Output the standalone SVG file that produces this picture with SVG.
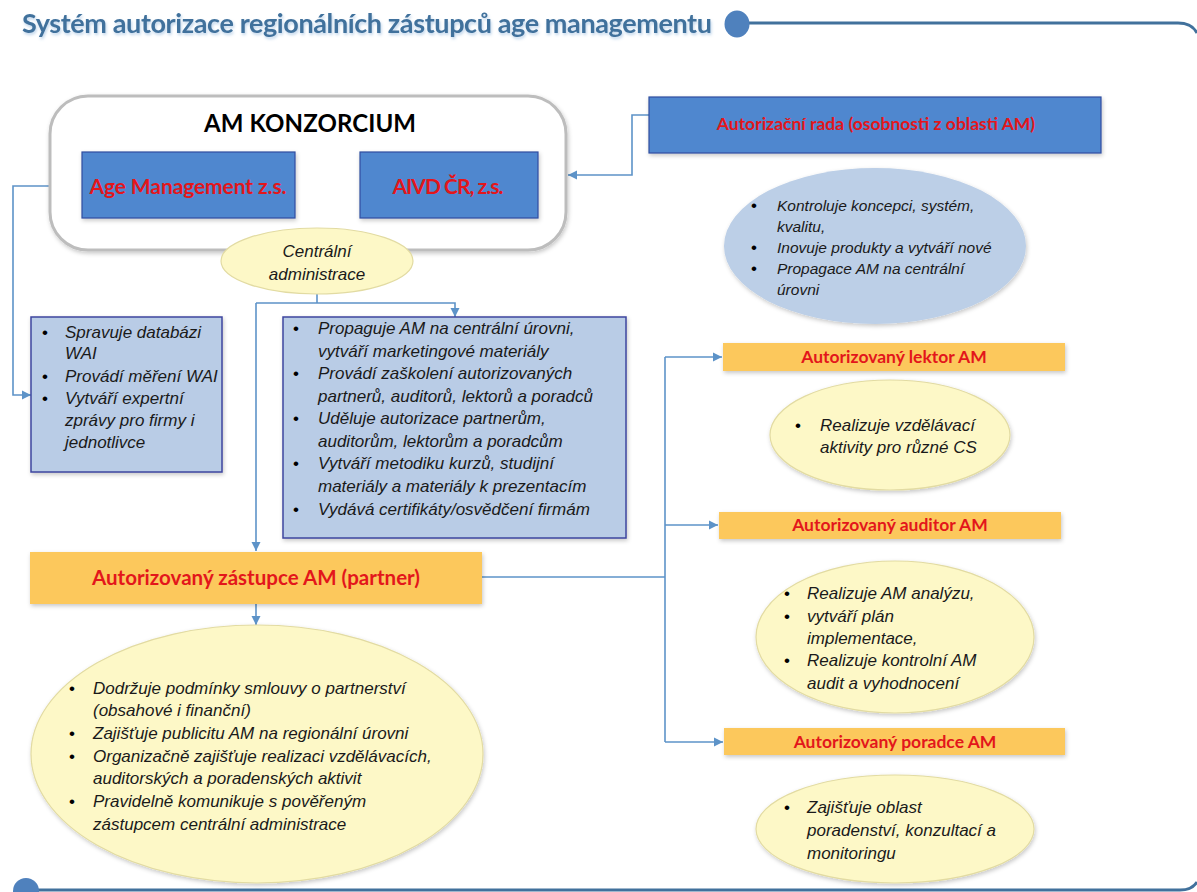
<svg xmlns="http://www.w3.org/2000/svg" width="1197" height="892" viewBox="0 0 1197 892">
<defs>
<style>
.title{font-family:Lato,"Liberation Sans",sans-serif;font-weight:bold;font-size:27px;fill:#41719c}
.head{font-family:Lato,"Liberation Sans",sans-serif;font-weight:bold;font-size:24px;fill:#000}
.red{font-family:Lato,"Liberation Sans",sans-serif;font-weight:bold;fill:#e3161b;text-anchor:middle}
.it{font-family:"Liberation Sans",Arial,sans-serif;font-style:italic;font-size:17px;fill:#1a1a1a}
.it2{font-family:"Liberation Sans",Arial,sans-serif;font-style:italic;font-size:15.5px;fill:#1a1a1a}
.bul{font-family:"Liberation Sans",sans-serif;font-size:17px;fill:#000}
.bluebox{fill:#5087cf;stroke:#2f4ea0;stroke-width:1.2}
.lightbox{fill:#b9cce6;stroke:#3c469e;stroke-width:1.5}
.orange{fill:#fcc85c}
.yell{fill:#fdf8c7;stroke:#e2dba2;stroke-width:1.2}
.conn{fill:none;stroke:#5d93c8;stroke-width:1.6}
.frame{fill:none;stroke:#41719c;stroke-width:2.8}
</style>
<marker id="arr" markerUnits="userSpaceOnUse" markerWidth="10" markerHeight="10" refX="9" refY="5" orient="auto">
<path d="M0,0.5 L9,5 L0,9.5 z" fill="#5d93c8"/>
</marker>
<filter id="sh" x="-10%" y="-10%" width="120%" height="130%">
<feDropShadow dx="1" dy="2" stdDeviation="2" flood-color="#000" flood-opacity="0.22"/>
</filter>
<filter id="tsh" x="-5%" y="-20%" width="110%" height="160%">
<feDropShadow dx="1" dy="2" stdDeviation="1.5" flood-color="#6f9fd0" flood-opacity="0.45"/>
</filter>
</defs>
<rect width="1197" height="892" fill="#fff"/>

<g id="frame">
<text class="title" x="22" y="33" textLength="690" filter="url(#tsh)">Systém autorizace regionálních zástupců age managementu</text>
<path class="frame" d="M745,23 H1178 Q1192,23 1197,33"/>
<ellipse cx="737" cy="24" rx="12.5" ry="13.5" fill="#4f81bd"/>
<path class="frame" d="M30,890 H1180 Q1192,890 1197,882"/>
<circle cx="26" cy="891" r="13" fill="#4f81bd"/>
</g>

<g id="connectors">
<path class="conn" d="M82,186 H13 V395 H31" marker-end="url(#arr)"/>
<path class="conn" d="M649,115 H632 V175 H568" marker-end="url(#arr)"/>
<path class="conn" d="M317,294 V303"/>
<path class="conn" d="M256,303 H455 V317" marker-end="url(#arr)"/>
<path class="conn" d="M256,303 V551" marker-end="url(#arr)"/>
<path class="conn" d="M256,604 V625" marker-end="url(#arr)"/>
<path class="conn" d="M482,577 H665"/>
<path class="conn" d="M665,357 V742"/>
<path class="conn" d="M665,357 H722" marker-end="url(#arr)"/>
<path class="conn" d="M665,525 H718" marker-end="url(#arr)"/>
<path class="conn" d="M665,742 H723" marker-end="url(#arr)"/>
</g>

<g id="konzorcium">
<rect x="50" y="96" width="516" height="154" rx="38" fill="#fff" stroke="#bdbdbd" stroke-width="3" filter="url(#sh)"/>
<text class="head" x="310" y="132" text-anchor="middle" textLength="212">AM KONZORCIUM</text>
</g>

<g id="age-management">
<rect class="bluebox" x="82" y="152" width="213" height="66" filter="url(#sh)"/>
<text class="red" x="188" y="194" font-size="21" textLength="197">Age Management z.s.</text>
</g>

<g id="aivd">
<rect class="bluebox" x="360" y="152" width="178" height="66" filter="url(#sh)"/>
<text class="red" x="448" y="194" font-size="21" textLength="111">AIVD ČR, z.s.</text>
</g>

<g id="centralni-administrace">
<ellipse class="yell" cx="317" cy="261" rx="96" ry="33"/>
<text class="it" x="317" y="257" text-anchor="middle">Centrální</text>
<text class="it" x="317" y="280" text-anchor="middle">administrace</text>
</g>

<g id="autorizacni-rada">
<rect class="bluebox" x="649" y="97" width="452" height="56" fill="#5a94d8" filter="url(#sh)"/>
<text class="red" x="876" y="130" font-size="17.5">Autorizační rada (osobnosti z oblasti AM)</text>
</g>

<g id="rada-ukoly">
<ellipse cx="875" cy="246" rx="151" ry="78" fill="#bccfe7" filter="url(#sh)"/>
<text class="bul" x="751" y="211">•</text>
<text class="it2" x="777" y="211">Kontroluje koncepci, systém,</text>
<text class="it2" x="777" y="232">kvalitu,</text>
<text class="bul" x="751" y="253">•</text>
<text class="it2" x="777" y="253">Inovuje produkty a vytváří nové</text>
<text class="bul" x="751" y="274">•</text>
<text class="it2" x="777" y="274">Propagace AM na centrální</text>
<text class="it2" x="777" y="295">úrovni</text>
</g>

<g id="wai">
<rect class="lightbox" x="31" y="317" width="191" height="155" filter="url(#sh)"/>
<text class="bul" x="42" y="338">•</text>
<text class="it" x="65" y="338">Spravuje databázi</text>
<text class="it" x="65" y="359">WAI</text>
<text class="bul" x="42" y="382">•</text>
<text class="it" x="65" y="382">Provádí měření WAI</text>
<text class="bul" x="42" y="404">•</text>
<text class="it" x="65" y="404">Vytváří expertní</text>
<text class="it" x="65" y="426">zprávy pro firmy i</text>
<text class="it" x="65" y="448">jednotlivce</text>
</g>

<g id="centralni-ukoly">
<rect class="lightbox" x="283" y="317" width="343" height="221" filter="url(#sh)"/>
<text class="bul" x="293" y="334">•</text>
<text class="it" x="318" y="334">Propaguje AM na centrální úrovni,</text>
<text class="it" x="318" y="357">vytváří  marketingové materiály</text>
<text class="bul" x="293" y="379">•</text>
<text class="it" x="318" y="379">Provádí zaškolení autorizovaných</text>
<text class="it" x="318" y="402">partnerů, auditorů, lektorů a poradců</text>
<text class="bul" x="293" y="424">•</text>
<text class="it" x="318" y="424">Uděluje autorizace partnerům,</text>
<text class="it" x="318" y="447">auditorům, lektorům a poradcům</text>
<text class="bul" x="293" y="469">•</text>
<text class="it" x="318" y="469">Vytváří metodiku kurzů, studijní</text>
<text class="it" x="318" y="492">materiály a materiály k prezentacím</text>
<text class="bul" x="293" y="515">•</text>
<text class="it" x="318" y="515">Vydává certifikáty/osvědčení firmám</text>
</g>

<g id="partner">
<rect class="orange" x="30" y="552" width="452" height="52" filter="url(#sh)"/>
<text class="red" x="256" y="585" font-size="20.5" textLength="328">Autorizovaný zástupce AM (partner)</text>
</g>

<g id="partner-ukoly">
<ellipse class="yell" cx="257" cy="754" rx="226" ry="129" filter="url(#sh)"/>
<text class="bul" x="69" y="694">•</text>
<text class="it" x="93" y="694">Dodržuje podmínky smlouvy o partnerství</text>
<text class="it" x="93" y="716">(obsahové i finanční)</text>
<text class="bul" x="69" y="739">•</text>
<text class="it" x="93" y="739">Zajišťuje publicitu AM na regionální úrovni</text>
<text class="bul" x="69" y="762">•</text>
<text class="it" x="93" y="762">Organizačně zajišťuje realizaci vzdělávacích,</text>
<text class="it" x="93" y="784">auditorských a poradenských aktivit</text>
<text class="bul" x="69" y="807">•</text>
<text class="it" x="93" y="807">Pravidelně komunikuje s pověřeným</text>
<text class="it" x="93" y="830">zástupcem centrální administrace</text>
</g>

<g id="lektor">
<rect class="orange" x="723" y="343" width="342" height="28" filter="url(#sh)"/>
<text class="red" x="894" y="363" font-size="17.5">Autorizovaný lektor AM</text>
</g>

<g id="lektor-ukoly">
<ellipse class="yell" cx="890" cy="435" rx="120" ry="55" filter="url(#sh)"/>
<text class="bul" x="795" y="431">•</text>
<text class="it" x="820" y="431">Realizuje vzdělávací</text>
<text class="it" x="820" y="453">aktivity pro různé CS</text>
</g>

<g id="auditor">
<rect class="orange" x="719" y="512" width="342" height="27" filter="url(#sh)"/>
<text class="red" x="890" y="531" font-size="17.5">Autorizovaný auditor AM</text>
</g>

<g id="auditor-ukoly">
<ellipse class="yell" cx="895" cy="637" rx="139" ry="76" filter="url(#sh)"/>
<text class="bul" x="784" y="599">•</text>
<text class="it" x="807" y="599">Realizuje AM analýzu,</text>
<text class="bul" x="784" y="622">•</text>
<text class="it" x="807" y="622">vytváří plán</text>
<text class="it" x="807" y="644">implementace,</text>
<text class="bul" x="784" y="666">•</text>
<text class="it" x="807" y="666">Realizuje kontrolní AM</text>
<text class="it" x="807" y="689">audit a vyhodnocení</text>
</g>

<g id="poradce">
<rect class="orange" x="724" y="728" width="341" height="27" filter="url(#sh)"/>
<text class="red" x="895" y="748" font-size="17.5">Autorizovaný poradce AM</text>
</g>

<g id="poradce-ukoly">
<ellipse class="yell" cx="895" cy="829" rx="139" ry="54" filter="url(#sh)"/>
<text class="bul" x="784" y="813">•</text>
<text class="it" x="807" y="813">Zajišťuje oblast</text>
<text class="it" x="807" y="836">poradenství, konzultací a</text>
<text class="it" x="807" y="859">monitoringu</text>
</g>
</svg>
